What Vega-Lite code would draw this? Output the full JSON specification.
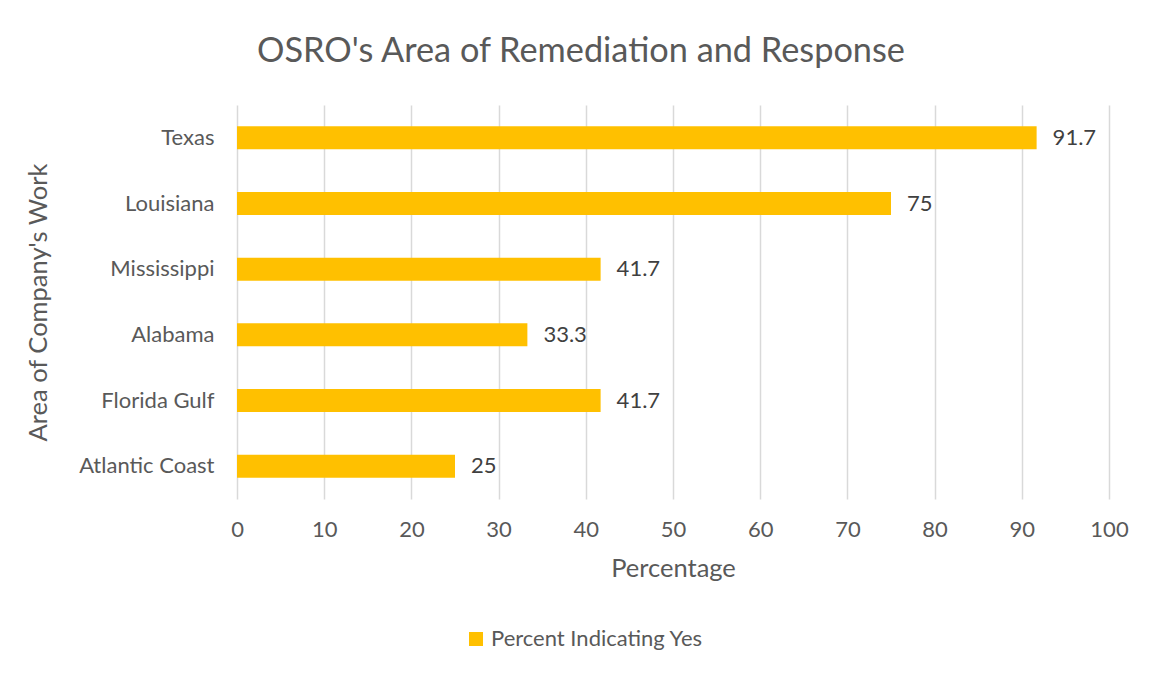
{
  "$schema": "https://vega.github.io/schema/vega-lite/v6.json",
  "width": 872,
  "height": 394,
  "autosize": {"type": "none"},
  "padding": {"left": 237, "top": 105, "right": 44, "bottom": 176},
  "background": "#ffffff",
  "title": {
    "text": "OSRO's Area of Remediation and Response",
    "font": "Lato",
    "fontSize": 34.3,
    "fontWeight": "normal",
    "color": "#595959",
    "anchor": "middle",
    "dx": -92,
    "offset": 36
  },
  "data": {
    "values": [
      {"area": "Texas", "pct": 91.7, "series": "Percent Indicating Yes"},
      {"area": "Louisiana", "pct": 75, "series": "Percent Indicating Yes"},
      {"area": "Mississippi", "pct": 41.7, "series": "Percent Indicating Yes"},
      {"area": "Alabama", "pct": 33.3, "series": "Percent Indicating Yes"},
      {"area": "Florida Gulf", "pct": 41.7, "series": "Percent Indicating Yes"},
      {"area": "Atlantic Coast", "pct": 25, "series": "Percent Indicating Yes"}
    ]
  },
  "encoding": {
    "y": {
      "field": "area",
      "type": "nominal",
      "sort": null,
      "scale": {"paddingInner": 0.65, "paddingOuter": 0.325},
      "axis": {
        "title": "Area of Company's Work",
        "domain": false,
        "ticks": false,
        "tickSize": 0,
        "labelPadding": 23,
        "labelFont": "Lato",
        "labelFontSize": 22,
        "labelColor": "#595959",
        "titleFont": "Lato",
        "titleFontSize": 25.5,
        "titleFontWeight": "normal",
        "titleColor": "#595959",
        "titlePadding": 27
      }
    },
    "x": {
      "field": "pct",
      "type": "quantitative",
      "scale": {"domain": [0, 100], "nice": false},
      "axis": {
        "title": "Percentage",
        "values": [0, 10, 20, 30, 40, 50, 60, 70, 80, 90, 100],
        "domain": false,
        "ticks": false,
        "tickSize": 0,
        "labelFlush": false,
        "labelOverlap": false,
        "labelPadding": 20,
        "labelFont": "Lato",
        "labelFontSize": 22,
        "labelColor": "#595959",
        "grid": true,
        "gridColor": "#d9d9d9",
        "gridWidth": 1.5,
        "titleFont": "Lato",
        "titleFontSize": 25.5,
        "titleFontWeight": "normal",
        "titleColor": "#595959",
        "titlePadding": 16
      }
    }
  },
  "layer": [
    {
      "mark": {"type": "bar"},
      "encoding": {
        "color": {
          "field": "series",
          "type": "nominal",
          "scale": {"range": ["#FFC000"]},
          "legend": {
            "title": null,
            "orient": "none",
            "legendX": 228,
            "legendY": 523,
            "padding": 0,
            "symbolType": "square",
            "symbolSize": 196,
            "symbolStrokeWidth": 0,
            "labelFont": "Lato",
            "labelFontSize": 22,
            "labelColor": "#595959",
            "labelOffset": 4,
            "labelLimit": 400
          }
        }
      }
    },
    {
      "mark": {"type": "text", "align": "left", "baseline": "middle", "dx": 16, "font": "Lato", "fontSize": 22, "color": "#404040"},
      "encoding": {
        "text": {"field": "pct", "type": "quantitative"}
      }
    }
  ],
  "config": {
    "view": {"stroke": null}
  }
}
